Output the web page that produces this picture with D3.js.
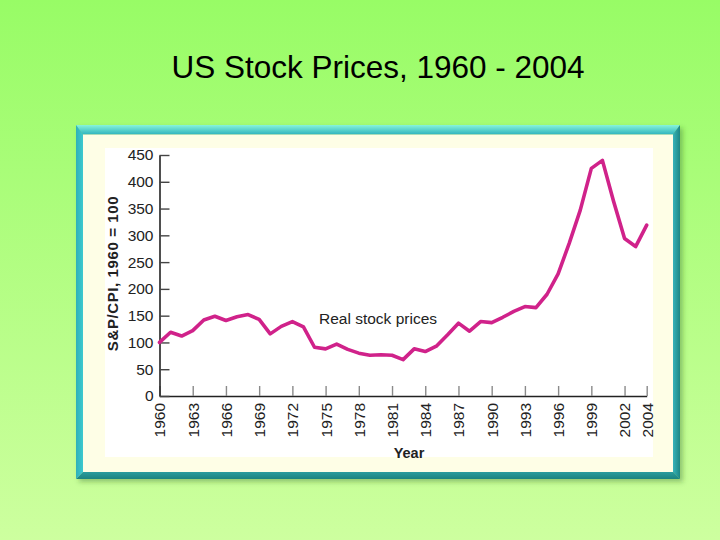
<!DOCTYPE html>
<html>
<head>
<meta charset="utf-8">
<script src="https://cdn.jsdelivr.net/npm/d3@7"></script>
<style>
  html, body { margin: 0; padding: 0; }
  body { width: 720px; height: 540px; overflow: hidden; }
  svg { display: block; font-family: "Liberation Sans", Arial, Helvetica, sans-serif; }
</style>
</head>
<body>
<svg id="chart" width="720" height="540"></svg>
<script>
const years = [1960,1961,1962,1963,1964,1965,1966,1967,1968,1969,
               1970,1971,1972,1973,1974,1975,1976,1977,1978,1979,
               1980,1981,1982,1983,1984,1985,1986,1987,1988,1989,
               1990,1991,1992,1993,1994,1995,1996,1997,1998,1999,
               2000,2001,2002,2003,2004];
const realPrices = [100,119,112,122,142,149,141,148,152,143,
                    116,130,139,129,91,88,97,87,80,76,
                    77,76,68,88,83,93,114,136,121,139,
                    137,147,158,167,165,190,228,285,347,425,
                    440,364,294,279,319];
const yTicks = [0,50,100,150,200,250,300,350,400,450];
const xTicks = [1960,1963,1966,1969,1972,1975,1978,1981,1984,1987,1990,1993,1996,1999,2002,2004];
const title = "US Stock Prices, 1960 - 2004";
const yTitle = "S&P/CPI, 1960 = 100";
const xTitle = "Year";
const seriesLabel = "Real stock prices";

const svg = d3.select("#chart");
const defs = svg.append("defs");

function grad(id, x2, y2, c0, c1) {
  const g = defs.append("linearGradient").attr("id",id).attr("x1",0).attr("y1",0).attr("x2",x2).attr("y2",y2);
  g.append("stop").attr("offset","0%").attr("stop-color",c0);
  g.append("stop").attr("offset","100%").attr("stop-color",c1);
}
grad("bg", 0, 1, "#98fc66", "#cdff9f");
grad("topB", 0, 1, "#86f4da", "#2fb3be");
grad("rightB", 1, 0, "#36b2ba", "#1d8683");
grad("leftB", 1, 0, "#2fb0b8", "#3cc9d0");
grad("botB", 0, 1, "#2a9c9e", "#1c8380");

const shadow = defs.append("filter").attr("id","shadow").attr("x","-10%").attr("y","-10%").attr("width","130%").attr("height","130%");
shadow.append("feGaussianBlur").attr("stdDeviation",2.5);

svg.append("rect").attr("width",720).attr("height",540).attr("fill","url(#bg)");

// title
svg.append("text").attr("x",378).attr("y",78).attr("text-anchor","middle")
  .attr("font-size",31.5).attr("fill","#000").text(title);

// frame
const fx0 = 76, fy0 = 125, fx1 = 680, fy1 = 479, bt = 9.5, bs = 7;
svg.append("rect").attr("x",fx0+3).attr("y",fy0+3).attr("width",fx1-fx0).attr("height",fy1-fy0)
  .attr("fill","rgba(40,90,20,0.35)").attr("filter","url(#shadow)");
svg.append("path").attr("d",`M${fx0},${fy0}H${fx1}L${fx1-bs},${fy0+bt}H${fx0+bs}Z`).attr("fill","url(#topB)");
svg.append("path").attr("d",`M${fx1},${fy0}V${fy1}L${fx1-bs},${fy1-bs}V${fy0+bt}Z`).attr("fill","url(#rightB)");
svg.append("path").attr("d",`M${fx0},${fy1}H${fx1}L${fx1-bs},${fy1-bs}H${fx0+bs}Z`).attr("fill","url(#botB)");
svg.append("path").attr("d",`M${fx0},${fy0}V${fy1}L${fx0+bs},${fy1-bs}V${fy0+bt}Z`).attr("fill","url(#leftB)");
svg.append("rect").attr("x",fx0+bs).attr("y",fy0+bt).attr("width",fx1-fx0-2*bs).attr("height",fy1-fy0-bt-bs).attr("fill","#fefee6");
svg.append("rect").attr("x",105).attr("y",148).attr("width",548).attr("height",309).attr("fill","#ffffff");

// scales
const x = d3.scaleLinear().domain([1960,2004]).range([159.5,646.7]);
const y = d3.scaleLinear().domain([0,450]).range([396,155]);

// axes
const xAxis = d3.axisBottom(x).tickValues(xTicks).tickFormat(d3.format("d"))
  .tickSizeInner(-10).tickSizeOuter(0).tickPadding(7);
const gx = svg.append("g").attr("transform",`translate(0,${y(0)})`).call(xAxis);
gx.select(".domain").attr("stroke","#222").attr("stroke-width",1.6);
gx.selectAll(".tick line").attr("stroke","#8a8a8a").attr("stroke-width",1.4);
gx.selectAll(".tick text")
  .attr("transform","rotate(-90)")
  .attr("x",-7).attr("y",0).attr("dy","0.35em")
  .attr("text-anchor","end")
  .attr("font-size",15.5).attr("fill","#222")
  .attr("font-family","'Liberation Sans', Arial, sans-serif");

const yAxis = d3.axisLeft(y).tickValues(yTicks).tickSizeInner(-10).tickSizeOuter(0).tickPadding(6);
const gy = svg.append("g").attr("transform",`translate(${x(1960)},0)`).call(yAxis);
gy.select(".domain").attr("stroke","#222").attr("stroke-width",1.6);
gy.selectAll(".tick line").attr("stroke","#444").attr("stroke-width",1.4);
gy.selectAll(".tick text").attr("font-size",15.5).attr("fill","#222")
  .attr("font-family","'Liberation Sans', Arial, sans-serif");

// axis titles
svg.append("text").attr("transform",`translate(118,273.5) rotate(-90)`)
  .attr("text-anchor","middle").attr("font-size",15).attr("font-weight","bold")
  .attr("letter-spacing",0.6).attr("fill","#222").text(yTitle);
svg.append("text").attr("x",409).attr("y",458).attr("text-anchor","middle")
  .attr("font-size",14.5).attr("font-weight","bold").attr("fill","#222").text(xTitle);

// line
const line = d3.line().x((d,i)=>x(years[i])).y(d=>y(d)).curve(d3.curveLinear);
svg.append("path").datum(realPrices).attr("d",line)
  .attr("fill","none").attr("stroke","#d0228a").attr("stroke-width",3.6)
  .attr("stroke-linejoin","round").attr("stroke-linecap","round");

// series label
svg.append("text").attr("x",319).attr("y",323.5).attr("font-size",15.5).attr("fill","#222").text(seriesLabel);
</script>
</body>
</html>
